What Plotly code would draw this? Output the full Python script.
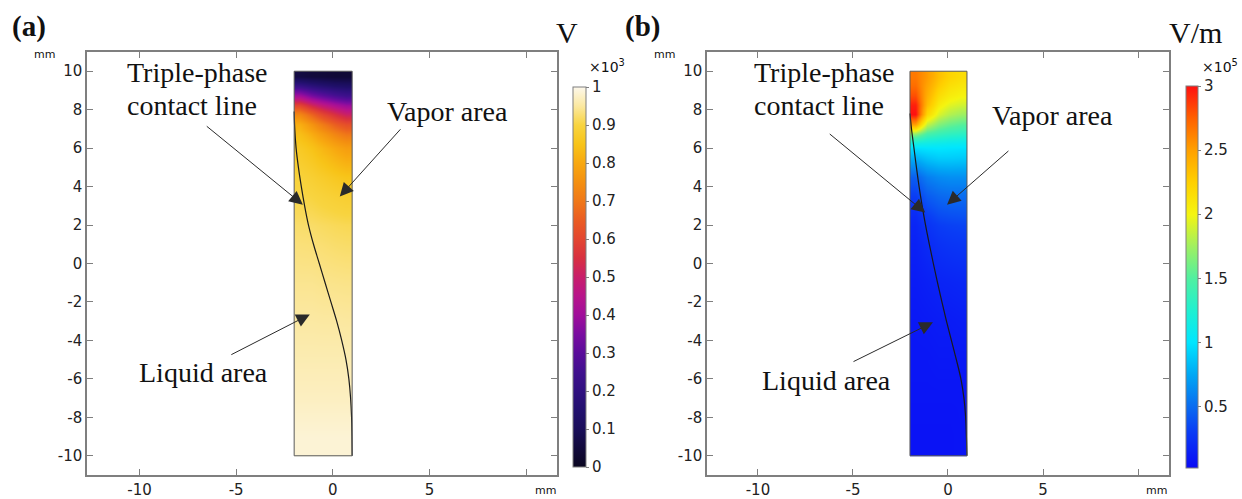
import plotly.graph_objects as go

W, H = 1242, 499

# ---------------- data ----------------
# cell edges of the sampled field grid (mm)
x_edges = [-2.0, -1.4, -0.8, -0.2, 0.4, 1.0]
y_edges = [-10, -8, -6, -4, -2, 0, 2, 3, 4, 5, 6, 6.5, 7, 7.5, 8, 8.5, 9, 9.5, 10]

# (a) electric potential, x10^3 V (rows from bottom to top, columns left to right)
potential = [
    [0.985, 0.985, 0.985, 0.985, 0.985],
    [0.972, 0.972, 0.972, 0.972, 0.972],
    [0.962, 0.962, 0.962, 0.962, 0.962],
    [0.952, 0.952, 0.951, 0.951, 0.950],
    [0.942, 0.942, 0.940, 0.939, 0.938],
    [0.930, 0.929, 0.926, 0.923, 0.921],
    [0.915, 0.913, 0.908, 0.904, 0.901],
    [0.905, 0.900, 0.893, 0.887, 0.882],
    [0.893, 0.884, 0.873, 0.862, 0.853],
    [0.875, 0.862, 0.843, 0.823, 0.805],
    [0.858, 0.838, 0.808, 0.778, 0.755],
    [0.840, 0.808, 0.768, 0.728, 0.695],
    [0.810, 0.760, 0.705, 0.655, 0.620],
    [0.730, 0.665, 0.600, 0.550, 0.505],
    [0.590, 0.520, 0.465, 0.420, 0.385],
    [0.400, 0.340, 0.300, 0.265, 0.240],
    [0.220, 0.185, 0.160, 0.140, 0.130],
    [0.060, 0.050, 0.045, 0.040, 0.040],
]

# (b) electric field norm, x10^5 V/m
efield = [
    [0.07, 0.07, 0.07, 0.07, 0.08],
    [0.08, 0.08, 0.08, 0.08, 0.08],
    [0.09, 0.09, 0.10, 0.10, 0.10],
    [0.10, 0.11, 0.12, 0.12, 0.13],
    [0.12, 0.14, 0.16, 0.17, 0.18],
    [0.15, 0.20, 0.24, 0.26, 0.27],
    [0.20, 0.30, 0.36, 0.38, 0.39],
    [0.30, 0.43, 0.48, 0.50, 0.50],
    [0.45, 0.58, 0.63, 0.65, 0.65],
    [0.78, 0.86, 0.90, 0.90, 0.89],
    [1.15, 1.12, 1.10, 1.08, 1.07],
    [1.70, 1.45, 1.38, 1.33, 1.30],
    [2.50, 1.85, 1.66, 1.57, 1.52],
    [3.00, 2.20, 1.92, 1.80, 1.74],
    [2.95, 2.35, 2.06, 1.94, 1.89],
    [2.80, 2.42, 2.17, 2.06, 2.01],
    [2.70, 2.47, 2.27, 2.14, 2.09],
    [2.65, 2.52, 2.34, 2.22, 2.16],
]

# triple-phase contact line (mm)
cl_a_y = [7.9, 7, 6, 5, 4, 3, 2, 1, 0, -1, -2, -3, -4, -5, -6, -7, -8, -9, -10]
cl_a_x = [-2.0, -1.97, -1.9, -1.78, -1.63, -1.46, -1.26, -1.0, -0.7, -0.4, -0.1,
          0.2, 0.46, 0.68, 0.83, 0.92, 0.97, 0.99, 1.0]
cl_b_y = [7.8, 7, 6, 5, 4, 3, 2, 1, 0, -1, -2, -3, -4, -5, -6, -7, -8, -9, -10]
cl_b_x = [-2.0, -1.92, -1.79, -1.66, -1.52, -1.36, -1.18, -0.98, -0.77, -0.55, -0.32,
          -0.08, 0.18, 0.44, 0.68, 0.84, 0.93, 0.97, 1.0]

x_tickvals = [-10, -5, 0, 5, 10]
x_ticktext = ["-10", "-5", "0", "5", ""]
y_tickvals = [-10, -8, -6, -4, -2, 0, 2, 4, 6, 8, 10]
y_ticktext = ["-10", "-8", "-6", "-4", "-2", "0", "2", "4", "6", "8", "10"]

cb_a_vals = [0, 0.1, 0.2, 0.3, 0.4, 0.5, 0.6, 0.7, 0.8, 0.9, 1]
cb_a_text = ["0", "0.1", "0.2", "0.3", "0.4", "0.5", "0.6", "0.7", "0.8", "0.9", "1"]
cb_b_vals = [0.5, 1, 1.5, 2, 2.5, 3]
cb_b_text = ["0.5", "1", "1.5", "2", "2.5", "3"]

# ---------------- styles ----------------
cs_a = [
    [0.00, "#0a0620"], [0.05, "#120a3c"], [0.10, "#1a0e5a"], [0.15, "#22106e"],
    [0.20, "#301080"], [0.25, "#40108e"], [0.30, "#5a0c9a"], [0.35, "#7a0ca0"],
    [0.40, "#a00e9a"], [0.45, "#b8148a"], [0.50, "#c81e6a"], [0.55, "#d83040"],
    [0.60, "#e34630"], [0.65, "#ea5c22"], [0.70, "#f07818"], [0.75, "#f49010"],
    [0.80, "#f8a810"], [0.85, "#f8c418"], [0.90, "#f8d440"], [0.95, "#fbe8a0"],
    [1.00, "#fdf8ec"],
]
cs_b = [
    [0.000, "#0a0af5"], [0.094, "#0a3cf5"], [0.161, "#0a6cf0"], [0.245, "#00a8f5"],
    [0.329, "#00e6ff"], [0.413, "#20f0d0"], [0.497, "#50f0a0"], [0.580, "#a0f060"],
    [0.664, "#f5f510"], [0.748, "#ffd000"], [0.832, "#ffa000"], [0.916, "#ff6000"],
    [1.000, "#ff1010"],
]

FRAME = "#7f7f7f"
TICKFONT = dict(family="DejaVu Sans", size=15, color="#222222")
SERIF = "Liberation Serif"

def px_x(p):
    return p / W

def px_y(p):
    return 1 - p / H

fig = go.Figure()

fig.add_trace(go.Heatmap(
    x=x_edges, y=y_edges, z=potential, zsmooth="best",
    colorscale=cs_a, zmin=0, zmax=1, xaxis="x", yaxis="y", hoverinfo="skip",
    colorbar=dict(x=px_x(573), xanchor="left", xpad=0, y=px_y(277), yanchor="middle",
                  ypad=0, len=380, lenmode="pixels", thickness=13,
                  outlinecolor=FRAME, outlinewidth=1,
                  tickvals=cb_a_vals, ticktext=cb_a_text, ticks="outside",
                  ticklen=3, tickcolor=FRAME, tickfont=TICKFONT),
))
fig.add_trace(go.Heatmap(
    x=x_edges, y=y_edges, z=efield, zsmooth="best",
    colorscale=cs_b, zmin=0.02, zmax=3, xaxis="x2", yaxis="y2", hoverinfo="skip",
    colorbar=dict(x=px_x(1186), xanchor="left", xpad=0, y=px_y(277), yanchor="middle",
                  ypad=0, len=382, lenmode="pixels", thickness=12,
                  outlinecolor=FRAME, outlinewidth=1,
                  tickvals=cb_b_vals, ticktext=cb_b_text, ticks="outside",
                  ticklen=3, tickcolor=FRAME, tickfont=TICKFONT),
))
fig.add_trace(go.Scatter(x=cl_a_x, y=cl_a_y, mode="lines", xaxis="x", yaxis="y",
                         line=dict(color="#1a1a1a", width=1.2, shape="spline"),
                         showlegend=False, hoverinfo="skip"))
fig.add_trace(go.Scatter(x=cl_b_x, y=cl_b_y, mode="lines", xaxis="x2", yaxis="y2",
                         line=dict(color="#1a1a1a", width=1.2, shape="spline"),
                         showlegend=False, hoverinfo="skip"))

axis_common = dict(showline=True, mirror="ticks", linecolor=FRAME, linewidth=1.5,
                   ticks="inside", ticklen=6, tickcolor=FRAME, tickwidth=1,
                   showgrid=False, zeroline=False, tickfont=TICKFONT)

layout = dict(
    width=W, height=H, margin=dict(l=0, r=0, t=0, b=0),
    paper_bgcolor="white", plot_bgcolor="white", showlegend=False,
    xaxis=dict(domain=[px_x(87), px_x(557)], range=[-12.72, 11.6], anchor="y",
               tickvals=x_tickvals, ticktext=x_ticktext, **axis_common),
    yaxis=dict(domain=[px_y(475), px_y(52)], range=[-11, 11], anchor="x",
               tickvals=y_tickvals, ticktext=y_ticktext, **axis_common),
    xaxis2=dict(domain=[px_x(707), px_x(1169)], range=[-12.68, 11.63], anchor="y2",
                tickvals=x_tickvals, ticktext=x_ticktext, **axis_common),
    yaxis2=dict(domain=[px_y(475), px_y(52)], range=[-11, 11], anchor="x2",
                tickvals=y_tickvals, ticktext=y_ticktext, **axis_common),
)
fig.update_layout(**layout)

# domain outlines
for xr, yr in (("x", "y"), ("x2", "y2")):
    fig.add_shape(type="rect", xref=xr, yref=yr, x0=-2, x1=1, y0=-10, y1=10,
                  line=dict(color="#5a5a5a", width=1), layer="above")

ann = []

def text(t, x, y, size=28, xanchor="left", family=SERIF):
    ann.append(dict(text=t, xref="paper", yref="paper", x=px_x(x), y=px_y(y),
                    xanchor=xanchor, yanchor="middle", showarrow=False,
                    font=dict(family=family, size=size, color="#111111")))

def arrow(xr, yr, tail, head):
    ann.append(dict(text="", xref=xr, yref=yr, axref=xr, ayref=yr,
                    x=head[0], y=head[1], ax=tail[0], ay=tail[1], showarrow=True,
                    arrowhead=2, arrowsize=2.7, arrowwidth=1, arrowcolor="#2a2a2a",
                    standoff=0, startstandoff=0))

# panel (a)
text("<b>(a)</b>", 29, 26, size=29, xanchor="center")
text("Triple-phase", 125, 72)
text("contact line", 125, 105)
text("Vapor area", 385, 111)
text("Liquid area", 137, 372)
text("V", 567, 33, size=30, xanchor="center")
text("×10<sup>3</sup>", 587, 66, size=14, family="DejaVu Sans")
text("mm", 44, 54, size=11, xanchor="center", family="DejaVu Sans")
text("mm", 545, 490, size=11, xanchor="center", family="DejaVu Sans")
arrow("x", "y", (-6.6, 7.2), (-1.55, 3.06))
arrow("x", "y", (3.57, 7.06), (0.36, 3.48))
arrow("x", "y", (-5.33, -4.78), (-1.19, -2.65))

# panel (b)
text("<b>(b)</b>", 642, 26, size=29, xanchor="center")
text("Triple-phase", 752, 72)
text("contact line", 752, 105)
text("Vapor area", 990, 115)
text("Liquid area", 760, 380)
text("V/m", 1195, 33, size=30, xanchor="center")
text("×10<sup>5</sup>", 1200, 66, size=14, family="DejaVu Sans")
text("mm", 664, 54, size=11, xanchor="center", family="DejaVu Sans")
text("mm", 1156, 490, size=11, xanchor="center", family="DejaVu Sans")
arrow("x2", "y2", (-6.3, 6.8), (-1.2, 2.65))
arrow("x2", "y2", (3.26, 5.92), (-0.05, 3.06))
arrow("x2", "y2", (-5.05, -5.14), (-0.79, -3.06))

fig.update_layout(annotations=ann)

fig.write_html("out.html")
